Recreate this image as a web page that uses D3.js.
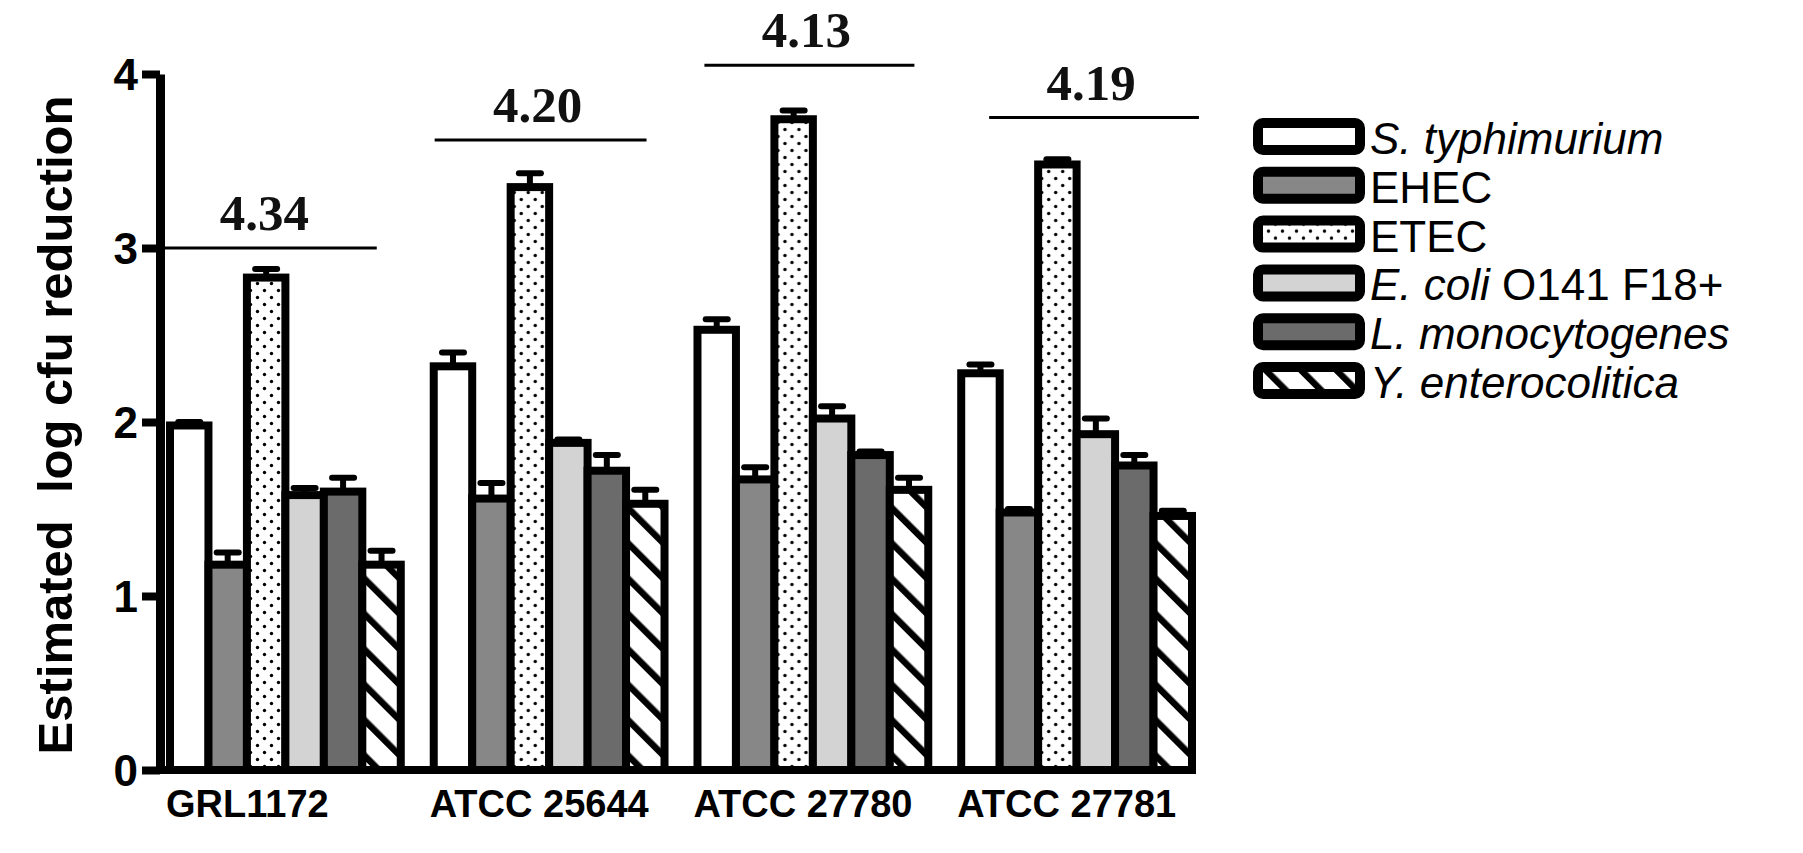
<!DOCTYPE html>
<html>
<head>
<meta charset="utf-8">
<script src="https://cdn.jsdelivr.net/npm/d3@7"></script>
<style>
  html, body { margin: 0; padding: 0; background: #fff; }
  svg { display: block; }
</style>
</head>
<body>
<svg id="chart" width="1803" height="853"></svg>
<script>
// ---------- data ----------
const groups = ["GRL1172", "ATCC 25644", "ATCC 27780", "ATCC 27781"];
const series = ["S. typhimurium", "EHEC", "ETEC", "E. coli O141 F18+", "L. monocytogenes", "Y. enterocolitica"];
const valuesTyphimurium = [1.98, 2.32, 2.53, 2.28];
const valuesEHEC        = [1.18, 1.56, 1.67, 1.48];
const valuesETEC        = [2.83, 3.35, 3.74, 3.48];
const valuesEcoliO141   = [1.58, 1.88, 2.02, 1.93];
const valuesListeria    = [1.60, 1.72, 1.81, 1.75];
const valuesYersinia    = [1.18, 1.53, 1.61, 1.46];
const errTyphimurium = [0.02, 0.08, 0.06, 0.05];
const errEHEC        = [0.07, 0.09, 0.07, 0.02];
const errETEC        = [0.05, 0.08, 0.05, 0.03];
const errEcoliO141   = [0.04, 0.02, 0.07, 0.09];
const errListeria    = [0.08, 0.09, 0.02, 0.06];
const errYersinia    = [0.08, 0.08, 0.07, 0.03];
const totalLabels = ["4.34", "4.20", "4.13", "4.19"];
const totalLineLevel = [3.0, 3.62, 4.05, 3.75];
const totalLineFrom = [-0.052, 0.004, 0.03, 0.121];   // fraction of group band
const totalLineTo   = [0.896, 0.922, 0.94, 1.03];
const yTicks = [0, 1, 2, 3, 4];

const seriesValues = [valuesTyphimurium, valuesEHEC, valuesETEC, valuesEcoliO141, valuesListeria, valuesYersinia];
const seriesErrors = [errTyphimurium, errEHEC, errETEC, errEcoliO141, errListeria, errYersinia];

// legend label parts: [text, italic?]
const legendParts = [
  [["S. typhimurium", true]],
  [["EHEC", false]],
  [["ETEC", false]],
  [["E. coli", true], [" O141 F18+", false]],
  [["L. monocytogenes", true]],
  [["Y. enterocolitica", true]]
];

// ---------- setup ----------
const svg = d3.select("#chart");
const sans = "'Liberation Sans', Arial, sans-serif";
const serif = "'Liberation Serif', 'Times New Roman', serif";

const defs = svg.append("defs");
const dots = defs.append("pattern").attr("id", "dots").attr("patternUnits", "userSpaceOnUse")
  .attr("width", 14).attr("height", 14);
dots.append("rect").attr("width", 14).attr("height", 14).attr("fill", "#fff");
dots.append("circle").attr("cx", 3.5).attr("cy", 3.5).attr("r", 1.7).attr("fill", "#000");
dots.append("circle").attr("cx", 10.5).attr("cy", 10.5).attr("r", 1.7).attr("fill", "#000");

const hatch = defs.append("pattern").attr("id", "hatch").attr("patternUnits", "userSpaceOnUse")
  .attr("width", 25).attr("height", 25).attr("patternTransform", "rotate(-45)");
hatch.append("rect").attr("width", 25).attr("height", 25).attr("fill", "#fff");
hatch.append("rect").attr("x", 0).attr("y", 0).attr("width", 6.5).attr("height", 25).attr("fill", "#000");

const fills = ["#ffffff", "#878787", "url(#dots)", "#d3d3d3", "#6b6b6b", "url(#hatch)"];

const axisX = 160;
const y = d3.scaleLinear().domain([0, 4]).range([770, 74]);
const x0 = d3.scaleBand().domain(groups).range([170, 1192]).paddingInner(0.125).paddingOuter(0);
const x1 = d3.scaleBand().domain(series).range([0, x0.bandwidth()]).padding(0);

// ---------- bars ----------
const gBars = svg.append("g");
groups.forEach((g, gi) => {
  const gg = gBars.append("g").attr("transform", `translate(${x0(g)},0)`);
  series.forEach((s, si) => {
    const v = seriesValues[si][gi];
    const e = seriesErrors[si][gi];
    const bx = x1(s), bw = x1.bandwidth();
    gg.append("line").attr("x1", bx + bw / 2).attr("x2", bx + bw / 2)
      .attr("y1", y(v)).attr("y2", y(v + e)).attr("stroke", "#000").attr("stroke-width", 6);
    gg.append("line").attr("x1", bx + bw / 2 - 11).attr("x2", bx + bw / 2 + 11)
      .attr("y1", y(v + e)).attr("y2", y(v + e)).attr("stroke", "#000").attr("stroke-width", 6)
      .attr("stroke-linecap", "round");
    gg.append("rect").attr("x", bx).attr("y", y(v)).attr("width", bw).attr("height", y(0) - y(v))
      .attr("fill", fills[si]).attr("stroke", "#000").attr("stroke-width", 8);
  });
});

// ---------- axes ----------
const yAxis = d3.axisLeft(y).tickValues(yTicks).tickSize(18).tickSizeOuter(0).tickPadding(4).tickFormat(d3.format("d"));
const gy = svg.append("g").attr("transform", `translate(${axisX},0)`).call(yAxis);
gy.select(".domain").attr("stroke", "#000").attr("stroke-width", 9);
gy.selectAll(".tick line").attr("stroke", "#000").attr("stroke-width", 8);
gy.selectAll(".tick text").attr("font-family", sans).attr("font-weight", "bold")
  .attr("font-size", 44).attr("fill", "#000").attr("dy", "0.36em");

// x baseline
svg.append("line").attr("x1", axisX).attr("x2", x0.range()[1] + 4)
  .attr("y1", y(0)).attr("y2", y(0)).attr("stroke", "#000").attr("stroke-width", 8);

// group labels
svg.append("g").selectAll("text").data(groups).join("text")
  .attr("x", d => x0(d) - 4).attr("y", 817)
  .attr("font-family", sans).attr("font-weight", "bold").attr("font-size", 38)
  .attr("text-anchor", "start").text(d => d);

// y title
svg.append("text")
  .attr("transform", `translate(72,${(y(0) + y(4)) / 2 + 3}) rotate(-90)`)
  .attr("text-anchor", "middle").attr("font-family", sans).attr("font-weight", "bold")
  .attr("font-size", 49).style("white-space", "pre")
  .text("Estimated  log cfu reduction");

// ---------- totals ----------
groups.forEach((g, gi) => {
  const xa = x0(g) + totalLineFrom[gi] * x0.bandwidth();
  const xb = x0(g) + totalLineTo[gi] * x0.bandwidth();
  const ly = y(totalLineLevel[gi]);
  svg.append("line").attr("x1", xa).attr("x2", xb).attr("y1", ly).attr("y2", ly)
    .attr("stroke", "#000").attr("stroke-width", 3);
  svg.append("text").attr("x", (xa + xb) / 2 - 3).attr("y", ly - 18)
    .attr("text-anchor", "middle").attr("font-family", serif).attr("font-weight", "bold")
    .attr("font-size", 51).attr("fill", "#111").text(totalLabels[gi]);
});

// ---------- legend ----------
const lg = svg.append("g").attr("transform", "translate(1258,123)");
series.forEach((s, si) => {
  const row = lg.append("g").attr("transform", `translate(0,${si * 48.8})`);
  row.append("rect").attr("width", 102).attr("height", 27).attr("rx", 5)
    .attr("fill", fills[si]).attr("stroke", "#000").attr("stroke-width", 10);
  const t = row.append("text").attr("x", 112).attr("y", 31)
    .attr("font-family", sans).attr("font-size", 44).style("white-space", "pre");
  legendParts[si].forEach(p => {
    t.append("tspan").attr("font-style", p[1] ? "italic" : "normal").text(p[0]);
  });
});
</script>
</body>
</html>
